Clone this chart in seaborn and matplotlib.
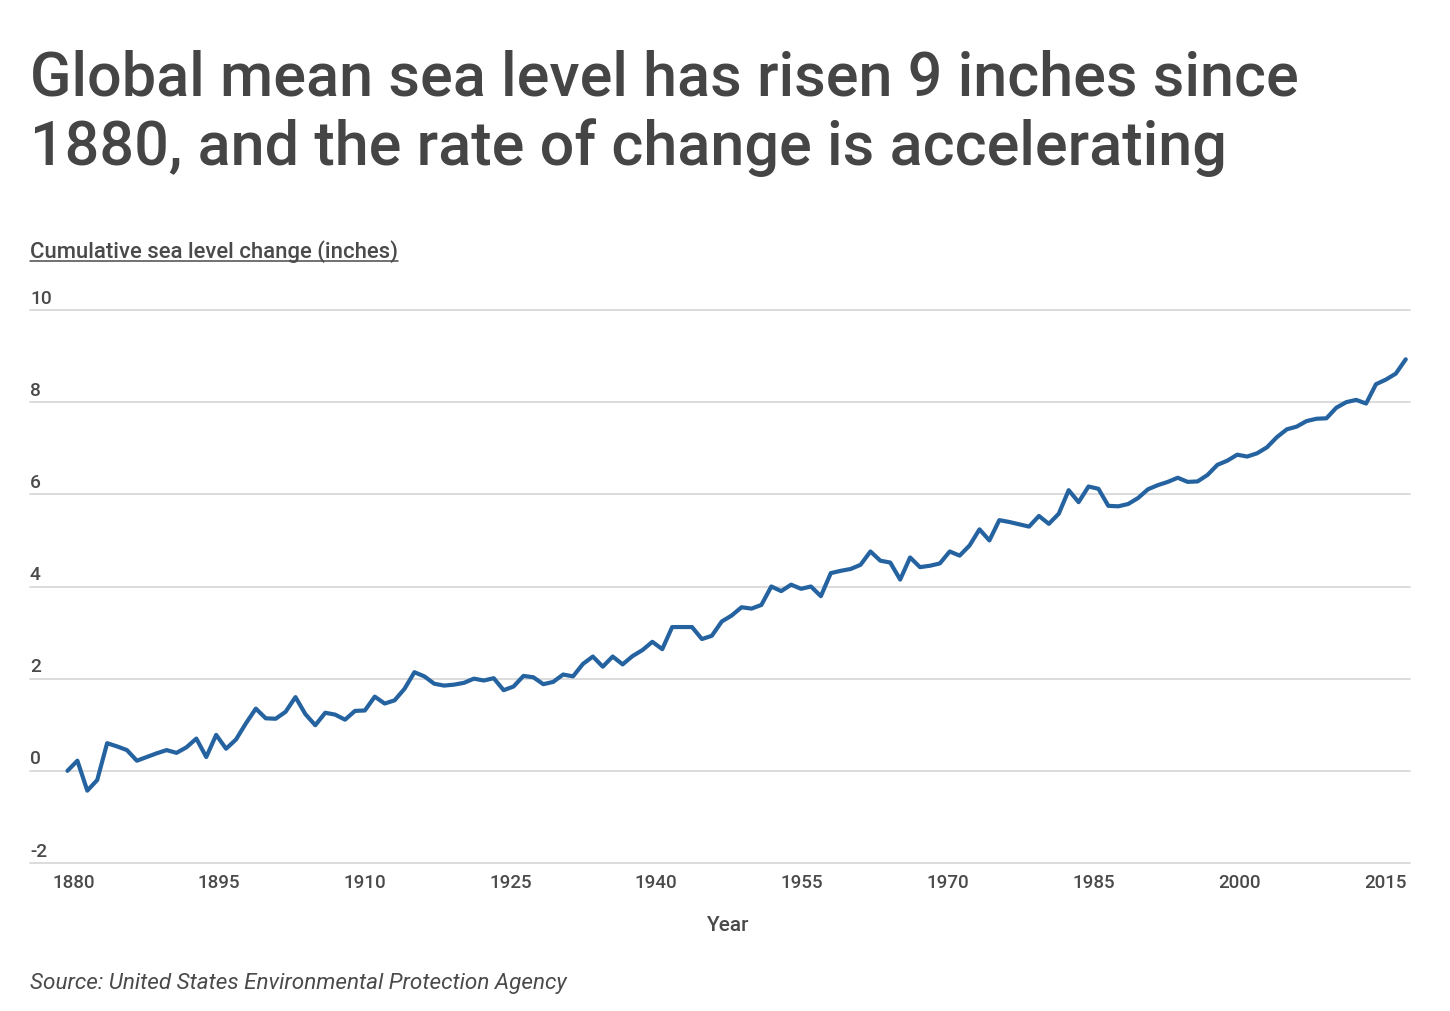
import numpy as np
import pandas as pd
import matplotlib
matplotlib.use('Agg')
import matplotlib.pyplot as plt
import seaborn as sns
from matplotlib.lines import Line2D

W, H = 1450, 1012

# yearly cumulative change, inches
years = np.arange(1880, 2016)
sea_level = [
    0.00, 0.22, -0.43, -0.20, 0.60, 0.53, 0.45, 0.22, 0.30, 0.38,   # 1880s
    0.45, 0.39, 0.51, 0.70, 0.30, 0.78, 0.48, 0.68, 1.03, 1.35,     # 1890s
    1.14, 1.13, 1.28, 1.60, 1.23, 0.99, 1.26, 1.22, 1.11, 1.30,     # 1900s
    1.31, 1.61, 1.46, 1.53, 1.78, 2.14, 2.05, 1.89, 1.85, 1.87,     # 1910s
    1.91, 2.00, 1.96, 2.01, 1.75, 1.83, 2.06, 2.03, 1.88, 1.93,     # 1920s
    2.09, 2.05, 2.32, 2.48, 2.26, 2.48, 2.31, 2.49, 2.62, 2.80,     # 1930s
    2.64, 3.12, 3.12, 3.12, 2.86, 2.93, 3.24, 3.37, 3.55, 3.52,     # 1940s
    3.60, 4.00, 3.90, 4.04, 3.95, 4.00, 3.79, 4.29, 4.34, 4.38,     # 1950s
    4.47, 4.76, 4.56, 4.52, 4.15, 4.63, 4.42, 4.45, 4.50, 4.76,     # 1960s
    4.67, 4.89, 5.24, 5.00, 5.44, 5.40, 5.35, 5.30, 5.53, 5.36,     # 1970s
    5.58, 6.09, 5.83, 6.17, 6.12, 5.75, 5.74, 5.79, 5.92, 6.11,     # 1980s
    6.20, 6.27, 6.36, 6.27, 6.28, 6.42, 6.64, 6.73, 6.86, 6.82,     # 1990s
    6.89, 7.02, 7.24, 7.41, 7.47, 7.59, 7.64, 7.65, 7.88, 8.00,     # 2000s
    8.05, 7.97, 8.39, 8.49, 8.62, 8.93,                             # 2010s
]

x_tick_labels = ['1880', '1895', '1910', '1925', '1940',
                 '1955', '1970', '1985', '2000', '2015']
y_ticks = [-2, 0, 2, 4, 6, 8, 10]

title_lines = ['Global mean sea level has risen 9 inches since',
               '1880, and the rate of change is accelerating']
subtitle = 'Cumulative sea level change (inches)'
x_label = 'Year'
source = 'Source: United States Environmental Protection Agency'

LINE = '#2563a0'
GRID = '#d9d9d9'
TITLE = '#454545'
TXT = '#4a4a4a'


def fx(px):
    return px / W


def fy(px):
    return 1 - px / H


sns.set_theme(style='white')
plt.rcParams['font.family'] = ['Roboto', 'DejaVu Sans']

fig = plt.figure(figsize=(W / 100, H / 100), dpi=100)
fig.patch.set_facecolor('white')
ax = fig.add_axes([fx(30), fy(864), fx(1380), 553 / H])

df = pd.DataFrame({'year': years, 'inches': sea_level})
sns.lineplot(data=df, x='year', y='inches', color=LINE, linewidth=3.0,
             ax=ax, solid_capstyle='round', solid_joinstyle='round', zorder=3)

ax.set_xlim(1876.22, 2015.43)
ax.set_ylim(-2, 10)

# gridlines + labels sitting on top of them, left aligned
for v in y_ticks:
    ax.axhline(v, color=GRID, lw=1.3, zorder=0, clip_on=False)
    ax.annotate(str(v), xy=(0, v), xycoords=ax.get_yaxis_transform(),
                xytext=(0, 2.5), textcoords='offset points',
                ha='left', va='bottom', fontsize=13.8, color=TXT,
                fontweight='medium')
ax.set_yticks([])

# the source chart's year labels sit on a slightly tighter spacing than the data
tick_pos = np.linspace(1880.59, 2012.91, len(x_tick_labels))
ax.set_xticks(tick_pos, x_tick_labels)
ax.tick_params(axis='x', length=0, pad=7.5, labelsize=13.5, labelcolor=TXT)
for lab in ax.get_xticklabels():
    lab.set_fontweight('medium')

sns.despine(ax=ax, left=True, bottom=True)
ax.set_xlabel('')
ax.set_ylabel('')
ax.set_facecolor('white')

##### Texts #####
fig.text(fx(30), fy(95), title_lines[0], ha='left', va='baseline',
         fontsize=44, fontweight='medium', color=TITLE)
fig.text(fx(30), fy(165), title_lines[1], ha='left', va='baseline',
         fontsize=44, fontweight='medium', color=TITLE)

sub = fig.text(fx(30), fy(258), subtitle, ha='left', va='baseline',
               fontsize=15.9, color=TXT, fontweight='medium')
fig.text(fx(728), fy(931.5), x_label, ha='center', va='baseline',
         fontsize=15, fontweight='medium', color=TXT)
fig.text(fx(30), fy(989), source, ha='left', va='baseline',
         fontsize=16.2, style='italic', color=TXT)

# underline the subtitle
renderer = fig.canvas.get_renderer()
bb = sub.get_window_extent(renderer)
fig.add_artist(Line2D([fx(bb.x0), fx(bb.x1)], [fy(261.5), fy(261.5)],
                      transform=fig.transFigure, color=TXT, lw=1.1))

fig.savefig('out.png', dpi=100, facecolor='white')
